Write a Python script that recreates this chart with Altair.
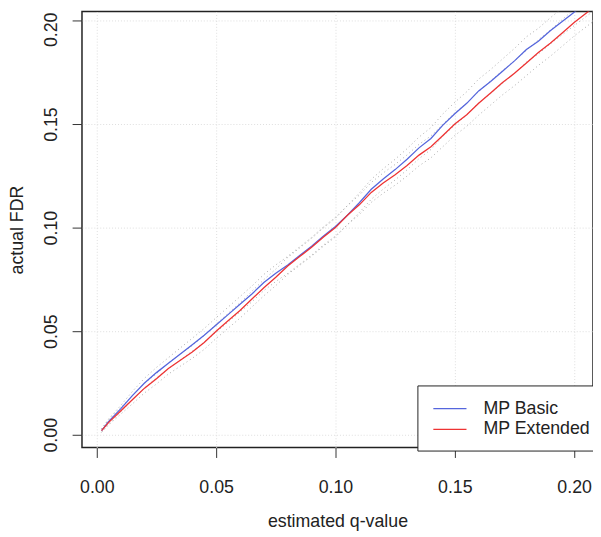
import altair as alt
import pandas as pd

# estimated q-value grid
q = [0.002, 0.005, 0.01, 0.015, 0.02, 0.025, 0.03, 0.035, 0.04, 0.045, 0.05,
     0.055, 0.06, 0.065, 0.07, 0.075, 0.08, 0.085, 0.09, 0.095, 0.10,
     0.105, 0.11, 0.115, 0.12, 0.125, 0.13, 0.135, 0.14, 0.145, 0.15,
     0.155, 0.16, 0.165, 0.17, 0.175, 0.18, 0.185, 0.19, 0.195, 0.20,
     0.205, 0.21]

# actual FDR, MP Basic (blue)
basic = [0.002, 0.0065, 0.0125, 0.019, 0.025, 0.030, 0.0345, 0.039, 0.0435, 0.048, 0.053,
         0.058, 0.063, 0.068, 0.0735, 0.078, 0.082, 0.0865, 0.091, 0.096, 0.1005,
         0.106, 0.112, 0.1185, 0.1235, 0.128, 0.133, 0.1385, 0.143, 0.1495, 0.155,
         0.160, 0.166, 0.1705, 0.1755, 0.1805, 0.186, 0.190, 0.195, 0.1995, 0.204,
         0.2085, 0.213]

# actual FDR, MP Extended (red)
extended = [0.002, 0.006, 0.0115, 0.017, 0.0225, 0.027, 0.032, 0.036, 0.040, 0.0445, 0.050,
            0.055, 0.060, 0.0655, 0.071, 0.076, 0.0815, 0.086, 0.0905, 0.0955, 0.100,
            0.106, 0.111, 0.117, 0.1215, 0.1255, 0.130, 0.135, 0.139, 0.1445, 0.150,
            0.1545, 0.160, 0.165, 0.170, 0.1745, 0.1795, 0.1845, 0.189, 0.194, 0.199,
            0.2035, 0.208]

# half-width of the dotted bands around each curve
band_hw = [0.0008, 0.0012, 0.0016, 0.0020, 0.0023, 0.0025, 0.0027, 0.0029, 0.0031, 0.0033, 0.0035,
           0.0036, 0.0037, 0.0038, 0.0039, 0.0040, 0.0041, 0.0042, 0.0043, 0.0044, 0.0045,
           0.0046, 0.0047, 0.0048, 0.0049, 0.0050, 0.0051, 0.0052, 0.0053, 0.0054, 0.0055,
           0.0056, 0.0057, 0.0058, 0.0059, 0.0060, 0.0061, 0.0062, 0.0063, 0.0064, 0.0065,
           0.0066, 0.0067]

series_names = ["MP Basic", "MP Extended"]
series_colors = ["#5566dd", "#ee3333"]
ticks = [0.0, 0.05, 0.10, 0.15, 0.20]

lines = pd.DataFrame(
    [{"series": series_names[0], "q": a, "fdr": b} for a, b in zip(q, basic)]
    + [{"series": series_names[1], "q": a, "fdr": b} for a, b in zip(q, extended)]
)

band_rows = []
for name, vals in (("basic", basic), ("ext", extended)):
    for a, b, h in zip(q, vals, band_hw):
        band_rows.append({"band": name + "_hi", "q": a, "fdr": b + h})
        band_rows.append({"band": name + "_lo", "q": a, "fdr": b - h})
bands = pd.DataFrame(band_rows)

xdom = [-0.0062, 0.2079]
ydom = [-0.0062, 0.2043]

xscale = alt.Scale(domain=xdom, nice=False, zero=False)
yscale = alt.Scale(domain=ydom, nice=False, zero=False)

FONT = "Liberation Sans"

xaxis = alt.Axis(values=ticks, format=".2f", title="estimated q-value",
                 grid=True, gridColor="#dddddd", gridDash=[1, 2], gridWidth=1,
                 domain=False, tickColor="#333333", tickSize=10, tickWidth=1,
                 labelFont=FONT, labelFontSize=18, labelColor="#222222", labelPadding=22,
                 titleFont=FONT, titleFontSize=18, titleColor="#222222", titleFontWeight="normal",
                 titleY=75, titleBaseline="middle")
yaxis = alt.Axis(values=ticks, format=".2f", title="actual FDR",
                 grid=True, gridColor="#dddddd", gridDash=[1, 2], gridWidth=1,
                 domain=False, tickColor="#333333", tickSize=10, tickWidth=1,
                 labelFont=FONT, labelFontSize=18, labelColor="#222222", labelPadding=12,
                 labelAngle=270, labelAlign="center", labelBaseline="bottom",
                 labelOffset={"condition": {"test": "datum.value > 0.19", "value": 9}, "value": 0},
                 titleFont=FONT, titleFontSize=18, titleColor="#222222", titleFontWeight="normal",
                 titleAngle=270, titleX=-65, titleBaseline="middle")

band_layer = alt.Chart(bands).mark_line(
    color="#aaaaaa", strokeDash=[1, 3], strokeWidth=1, clip=True
).encode(
    x=alt.X("q:Q", scale=xscale, axis=xaxis),
    y=alt.Y("fdr:Q", scale=yscale, axis=yaxis),
    detail="band:N",
)

line_layer = alt.Chart(lines).mark_line(strokeWidth=1.3, clip=True).encode(
    x=alt.X("q:Q", scale=xscale),
    y=alt.Y("fdr:Q", scale=yscale),
    color=alt.Color("series:N",
                    scale=alt.Scale(domain=series_names, range=series_colors),
                    legend=alt.Legend(title=None, orient="none", legendX=340, legendY=379,
                                      symbolType="M-0.7,0L2.5,0", symbolSize=441,
                                      symbolStrokeWidth=1.3,
                                      labelFont=FONT, labelFontSize=18, labelColor="#222222",
                                      labelOffset=32, rowPadding=0, padding=12,
                                      strokeColor="#222222", fillColor="white",
                                      cornerRadius=0)),
)

chart = alt.layer(band_layer, line_layer).properties(
    width=518, height=442,
    background="white",
    autosize=alt.AutoSizeParams(type="none"),
    padding={"left": 75, "top": 0, "right": 0, "bottom": 87},
).configure_view(
    stroke="#222222", strokeWidth=1.5, fill="white"
)

chart.save("out.html", embed_options={"renderer": "svg", "actions": False})
